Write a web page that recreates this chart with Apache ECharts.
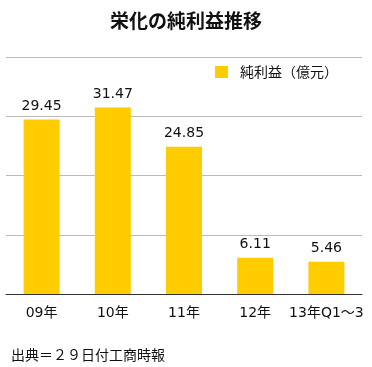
<!DOCTYPE html>
<html><head><meta charset="utf-8">
<script src="https://cdn.jsdelivr.net/npm/echarts@6/dist/echarts.min.js"></script>
<style>html,body{margin:0;padding:0;background:#fff}#c{width:372px;height:367px}</style>
</head><body><div id="c"></div>
<script>
var categories = ['09年', '10年', '11年', '12年', '13年Q1～3'];
var values = [29.45, 31.47, 24.85, 6.11, 5.46];
var seriesName = '純利益（億元）';
var titleText = '栄化の純利益推移';
var sourceText = '出典＝２９日付工商時報';
var FONT = '"Noto Sans CJK JP", sans-serif';
var NUMFONT = '"DejaVu Sans", "Noto Sans CJK JP", sans-serif';
var chart = echarts.init(document.getElementById('c'));
chart.setOption({
  animation: false,
  backgroundColor: '#fff',
  textStyle: {fontFamily: FONT},
  title: [{
    text: titleText, left: 'center', top: 6,
    textStyle: {fontSize: 19, fontWeight: 'bold', color: '#111', fontFamily: FONT}
  }, {
    text: sourceText, left: 6, top: 343,
    textStyle: {fontSize: 14, fontWeight: 'normal', color: '#111', fontFamily: FONT}
  }],
  legend: {
    data: [seriesName], left: 210, top: 60, itemWidth: 13, itemHeight: 12, itemGap: 8,
    icon: 'rect',
    textStyle: {fontSize: 14, color: '#111', fontFamily: FONT, padding: [0, 0, 0, 7]}
  },
  grid: {left: 6, right: 10, top: 57, bottom: 73},
  xAxis: {
    type: 'category', data: categories,
    axisLine: {lineStyle: {color: '#333', width: 1}},
    axisTick: {show: false},
    axisLabel: {fontSize: 14, color: '#111', margin: 12, fontFamily: NUMFONT, interval: 0}
  },
  yAxis: {
    type: 'value', min: 0, max: 40, interval: 10,
    axisLabel: {show: false}, axisLine: {show: false}, axisTick: {show: false},
    splitLine: {lineStyle: {color: '#bbb', width: 1}}
  },
  series: [{
    name: seriesName, type: 'bar', data: values, barWidth: 36,
    itemStyle: {color: '#FFCC00'},
    label: {show: true, position: 'top', fontSize: 14, color: '#111', distance: 6, fontFamily: NUMFONT}
  }]
});
</script></body></html>
